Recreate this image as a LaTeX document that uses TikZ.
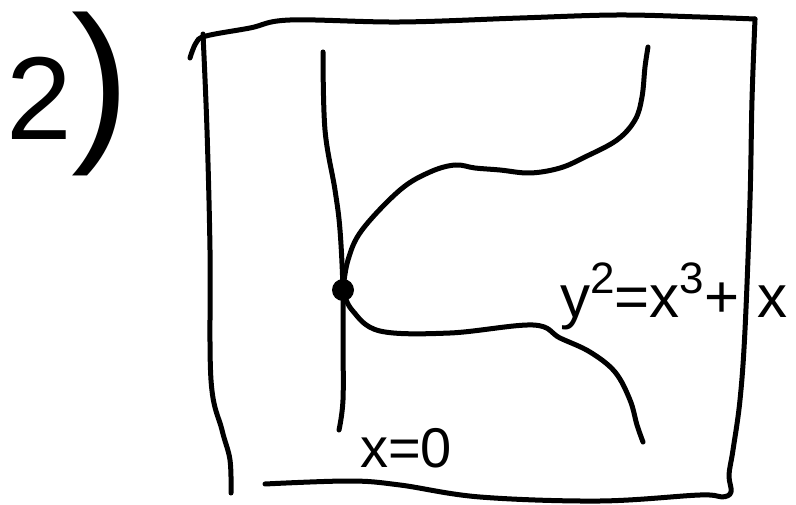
\documentclass[tikz,border=0pt]{standalone}
\usepackage{fontspec}
\setmainfont{Liberation Sans}
\usetikzlibrary{positioning}

\begin{document}
\begin{tikzpicture}[x=1pt, y=-1pt,
    inkline/.style={line width=5pt, line cap=round, line join=round},
    inklbl/.style={inner sep=0pt, anchor=base west},
    dotpt/.style={circle, fill=black, minimum size=22pt, inner sep=0pt},
  ]
  \useasboundingbox (0,0) rectangle (796,505);

  % ---- Task number ----
  \node[inklbl, font=\fontsize{118}{118}\selectfont] (num) at (6,140)
    {2{\fontsize{176}{176}\selectfont)}};

  % ---- Frame ----
  \draw[inkline] plot[smooth, tension=0.6] coordinates {
    (190,58) (196,43) (206,36) (250,28) (290,20) (400,22) (520,18)
    (617,15) (700,17) (755,19)};
  \draw[inkline] plot[smooth, tension=0.6] coordinates {
    (203,34) (207,130) (210,250) (211,380) (222,430) (230,460) (231,493)};
  \draw[inkline] plot[smooth, tension=0.6] coordinates {
    (755,19) (752,100) (750,200) (745,330) (740,400) (733,450)
    (729,475) (731,492) (722,497) (700,495) (600,501) (480,497)
    (400,485) (350,481) (265,484)};

  % ---- Axis x=0 ----
  \node[dotpt] (pt) at (343,290) {};
  \draw[inkline] plot[smooth, tension=0.6] coordinates {
    (323,52) (325,130) (335,190) (340,230) (343,290) (343,340)
    (343,400) (339,430)};
  \node[inklbl, font=\fontsize{56}{56}\selectfont] (xzero) at (360,467) {x=0};

  % ---- Curve ----
  \draw[inkline] plot[smooth, tension=0.6] coordinates {
    (pt.center) (348,260) (362,230) (400,190) (430,172) (455,165)
    (475,168) (500,170) (530,173) (560,168) (585,157) (617,140)
    (635,120) (642,97) (645,67) (648,47)};
  \draw[inkline] plot[smooth, tension=0.6] coordinates {
    (pt.center) (352,310) (380,331) (450,333) (533,325) (560,338)
    (590,352) (615,372) (630,400) (637,425) (643,442)};
  \node[inklbl, font=\fontsize{60}{60}\selectfont] (eqn) at (560,318)
    {y\raisebox{24pt}{\fontsize{44}{44}\selectfont 2}=x\raisebox{24pt}{\fontsize{44}{44}\selectfont 3}+\hspace{18pt}x};
\end{tikzpicture}
\end{document}
